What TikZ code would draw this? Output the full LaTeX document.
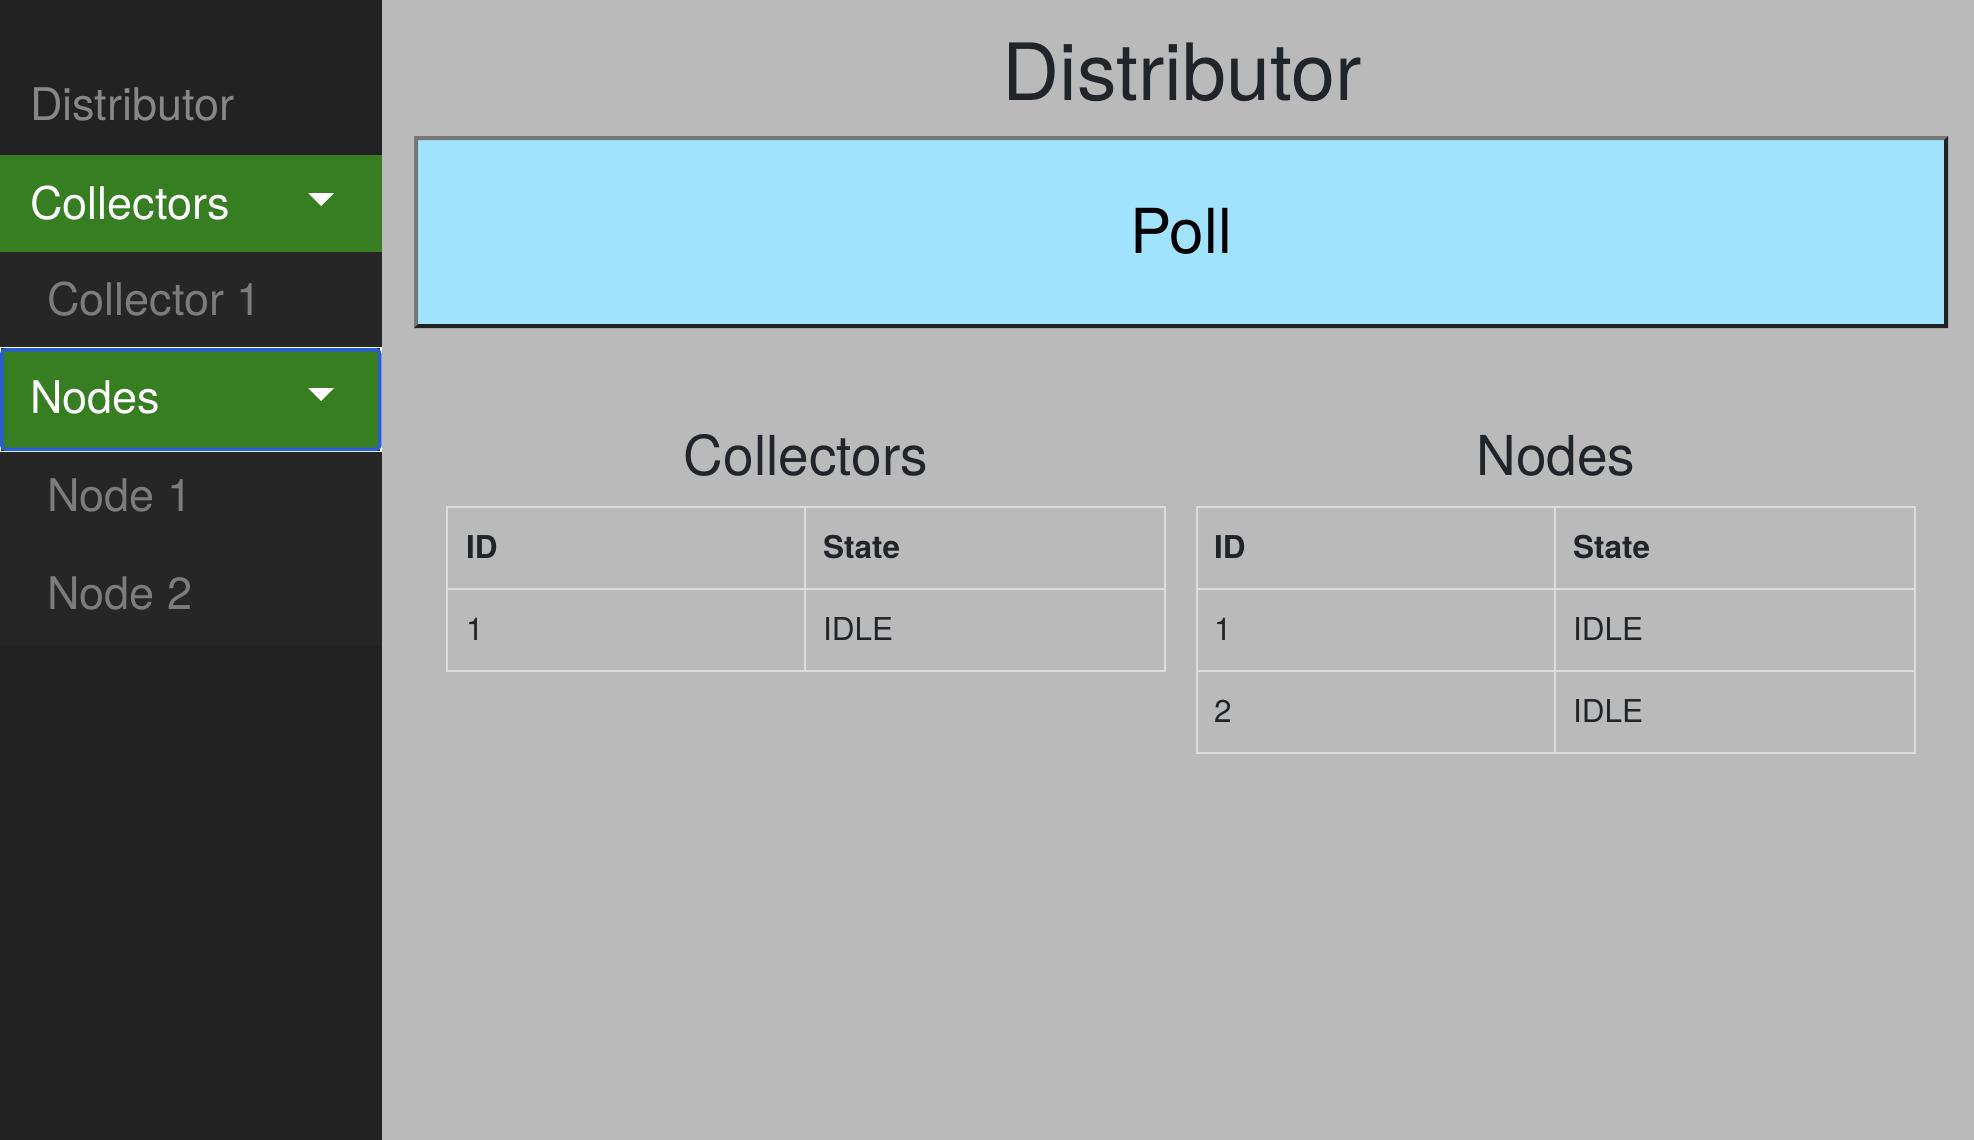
\documentclass[tikz,border=0pt]{standalone}
\usepackage{fontspec}
\setmainfont{TeX Gyre Heros}
\definecolor{sidebg}{HTML}{222222}
\definecolor{subbg}{HTML}{262626}
\definecolor{menugreen}{HTML}{377E22}
\definecolor{focusblue}{HTML}{2A5CD6}
\definecolor{mainbg}{HTML}{BABABA}
\definecolor{ink}{HTML}{212529}
\definecolor{pollfill}{HTML}{A1E2FC}
\definecolor{bevlight}{HTML}{767676}
\definecolor{bevdark}{HTML}{222222}
\definecolor{tline}{HTML}{DCDCDC}
\definecolor{headgrey}{HTML}{878787}
\definecolor{subgrey}{HTML}{7C7C7C}
\tikzset{
  txt/.style={anchor=base west, inner sep=0pt, outer sep=0pt},
  ctxt/.style={anchor=base, inner sep=0pt, outer sep=0pt},
  sidefont/.style={font=\fontsize{45}{54}\selectfont},
  headfont/.style={font=\fontsize{55}{66}\selectfont, text=ink},
  cellfont/.style={font=\fontsize{31.5}{38}\selectfont, text=ink},
  cellbold/.style={font=\fontsize{31.5}{38}\selectfont\bfseries, text=ink},
  tableline/.style={draw=tline, line width=2pt},
}
\begin{document}
\begin{tikzpicture}[x=1pt,y=-1pt]
\useasboundingbox (0,0) rectangle (1974,1140);
% backgrounds
\fill[mainbg] (381.5,0) rectangle (1974,1140);
\fill[sidebg] (0,0) rectangle (381.5,1140);
\fill[subbg] (0,252) rectangle (381.5,645);
% sidebar
\node[txt, sidefont, text=headgrey] (sdist) at (30,120) {Distributor};
\fill[menugreen] (0,155) rectangle (381.5,252);
\node[txt, sidefont, text=white] (scoll) at (30,219) {Collectors};
\fill[white] (308,193) -- (334,193) -- (321,206) -- cycle;
\node[txt, sidefont, text=subgrey] (scoll1) at (47,315) {Collector 1};
\fill[menugreen] (0,349) rectangle (381.5,450);
\draw[white, line width=1.2pt] (0.6,347.4) rectangle (381,451.6);
\draw[focusblue, line width=3.5pt, rounded corners=4pt] (1.75,349.75) rectangle (379.75,449.25);
\node[txt, sidefont, text=white] (snodes) at (30,413) {Nodes};
\fill[white] (308,388) -- (334,388) -- (321,401) -- cycle;
\node[txt, sidefont, text=subgrey] (snode1) at (47,511) {Node 1};
\node[txt, sidefont, text=subgrey] (snode2) at (47,609) {Node 2};
% title
\node[ctxt, font=\fontsize{79}{95}\selectfont, text=ink] (title) at (1182,100) {Distributor};
% poll box
\fill[pollfill] (418,140) rectangle (1944,324);
\fill[bevlight] (414,136) -- (1948,136) -- (1944,140) -- (418,140) -- (418,324) -- (414,328) -- cycle;
\fill[bevdark] (1948,136) -- (1948,328) -- (414,328) -- (418,324) -- (1944,324) -- (1944,140) -- cycle;
\node[ctxt, font=\fontsize{62}{74}\selectfont, text=black] (poll) at (1181,253) {Poll};
% headings
\node[ctxt, headfont] (hcoll) at (806,475) {Collectors};
\node[ctxt, headfont] (hnodes) at (1556,475) {Nodes};
% collectors table
\draw[tableline] (447,507) rectangle (1165,671);
\draw[tableline] (805,507) -- (805,671);
\draw[tableline] (447,589) -- (1165,589);
\node[txt, cellbold] (c-id) at (466,558) {ID};
\node[txt, cellbold] (c-state) at (823,558) {State};
\node[txt, cellfont] (c-1) at (466,640) {1};
\node[txt, cellfont] (c-1s) at (823,640) {IDLE};
% nodes table
\draw[tableline] (1197,507) rectangle (1915,753);
\draw[tableline] (1555,507) -- (1555,753);
\draw[tableline] (1197,589) -- (1915,589);
\draw[tableline] (1197,671) -- (1915,671);
\node[txt, cellbold] (n-id) at (1214,558) {ID};
\node[txt, cellbold] (n-state) at (1573,558) {State};
\node[txt, cellfont] (n-1) at (1214,640) {1};
\node[txt, cellfont] (n-1s) at (1573,640) {IDLE};
\node[txt, cellfont] (n-2) at (1214,722) {2};
\node[txt, cellfont] (n-2s) at (1573,722) {IDLE};
\end{tikzpicture}
\end{document}
